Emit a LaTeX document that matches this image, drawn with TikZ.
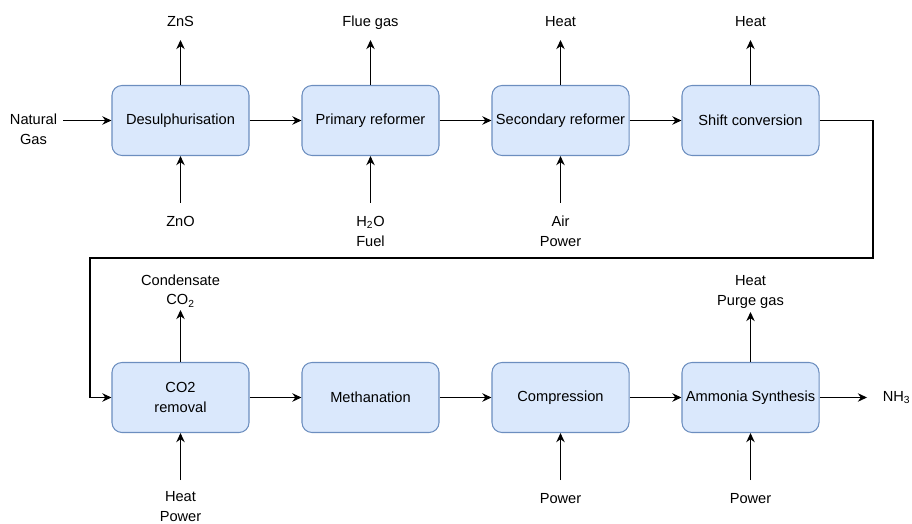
\documentclass[tikz,border=0pt]{standalone}
\usepackage{fontspec}
\setmainfont{Liberation Sans}
\usetikzlibrary{arrows.meta}
\definecolor{unitfill}{HTML}{DAE8FC}
\definecolor{unitedge}{HTML}{6C8EBF}

\begin{document}
\begin{tikzpicture}[x=0.025cm,y=-0.025cm,
  every node/.style={font=\fontsize{10.4}{14}\selectfont},
  unit/.style={draw=unitedge,fill=unitfill,rounded corners=0.25cm,line width=0.75pt,minimum width=3.425cm,minimum height=1.75cm,inner sep=1pt,align=center},
  outlbl/.style={anchor=south,inner sep=0pt,inner ysep=9.2pt,text depth=0pt,align=center},
  inlbl/.style={anchor=north,inner sep=0pt,inner ysep=9.3pt,align=center},
  flow/.style={-{Stealth[length=6.5pt,width=6pt]},line width=0.75pt}]
  \useasboundingbox (0,0) rectangle (912,524);
  \node[unit] (desulph) at (180.5,120.5) {Desulphurisation};
  \node[unit] (primary) at (370.5,120.5) {Primary reformer};
  \node[unit] (secondary) at (560.5,120.5) {Secondary reformer};
  \node[unit] (shift) at (750.5,120.5) {Shift conversion};
  \node[unit] (co2rem) at (180.5,397.5) {CO2\\removal};
  \node[unit] (methan) at (370.5,397.5) {Methanation};
  \node[unit] (compr) at (560.5,397.5) {Compression};
  \node[unit] (synth) at (750.5,397.5) {Ammonia Synthesis};

  \node[outlbl] (zns) at (180.5,40) {ZnS};
  \node[outlbl] (flue) at (370.5,40) {Flue gas};
  \node[outlbl] (heatA) at (560.5,40) {Heat};
  \node[outlbl] (heatB) at (750.5,40) {Heat};
  \node[outlbl,inner ysep=3.5pt] (cond) at (180.5,310) {Condensate\\CO\textsubscript{2}};
  \node[outlbl,inner ysep=4.5pt] (purge) at (750.5,312) {Heat\\Purge gas};

  \node[inlbl] (zno) at (180.5,203) {ZnO};
  \node[inlbl] (water) at (370.5,203) {H\textsubscript{2}O\\Fuel};
  \node[inlbl] (air) at (560.5,203) {Air\\Power};
  \node[inlbl,inner ysep=8.2pt,font=\fontsize{10.4}{13.6}\selectfont] (heatpow) at (180.5,480) {Heat\\Power};
  \node[inlbl] (powA) at (560.5,480) {Power};
  \node[inlbl] (powB) at (750.5,480) {Power};

  \node[anchor=north east,inner xsep=4pt,inner ysep=0pt,align=center] (gas) at (63,114) {Natural\\Gas};
  \node[anchor=west,inner sep=0pt,inner xsep=11pt] (nh3) at (867,397.5) {NH\textsubscript{3}};

  \coordinate (turnR) at (873,258);
  \coordinate (turnL) at (90,258);

  \draw[flow] (gas.east |- desulph.west) -- (desulph.west);
  \draw[flow] (desulph) -- (primary);
  \draw[flow] (primary) -- (secondary);
  \draw[flow] (secondary) -- (shift);
  \draw[flow] (shift.east) -| (turnR) -- (turnL) |- (co2rem.west);
  \draw[flow] (co2rem) -- (methan);
  \draw[flow] (methan) -- (compr);
  \draw[flow] (compr) -- (synth);
  \draw[flow] (synth) -- (nh3);

  \draw[flow] (desulph) -- (zns);
  \draw[flow] (primary) -- (flue);
  \draw[flow] (secondary) -- (heatA);
  \draw[flow] (shift) -- (heatB);
  \draw[flow] (co2rem) -- (cond);
  \draw[flow] (synth) -- (purge);

  \draw[flow] (zno) -- (desulph);
  \draw[flow] (water) -- (primary);
  \draw[flow] (air) -- (secondary);
  \draw[flow] (heatpow) -- (co2rem);
  \draw[flow] (powA) -- (compr);
  \draw[flow] (powB) -- (synth);
\end{tikzpicture}
\end{document}
